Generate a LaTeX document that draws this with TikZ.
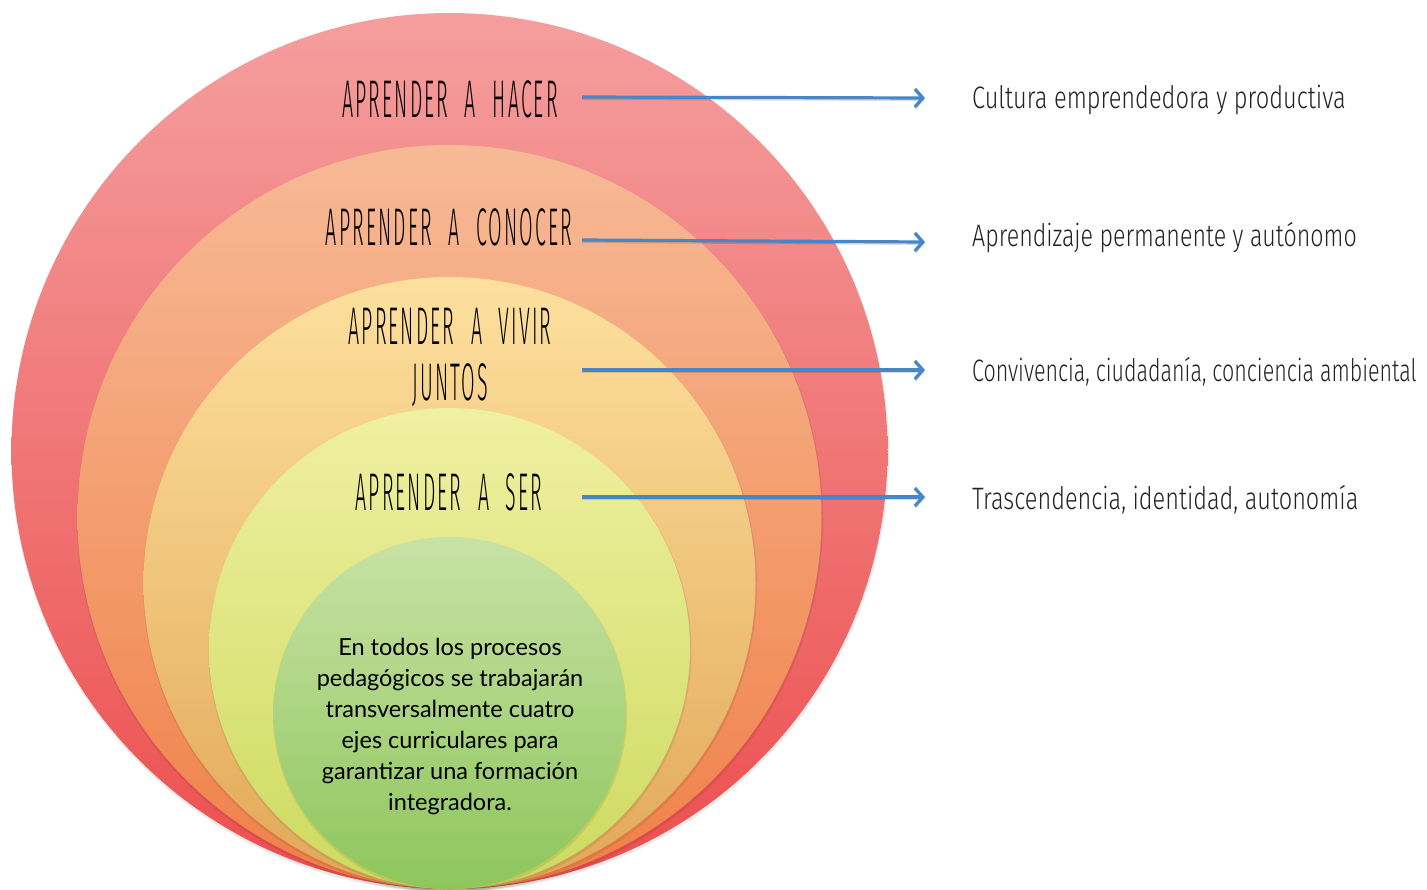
\documentclass[tikz,border=0pt]{standalone}
\usepackage{fontspec}
\usepackage{graphicx}
\usetikzlibrary{arrows.meta}
\newfontfamily\handfont[FakeStretch=0.37,LetterSpace=4,WordSpace=2.2]{Fira Sans Light}
\newfontfamily\condfont[FakeStretch=0.74]{Fira Sans Light}
\newfontfamily\gillfont{Lato}
\definecolor{cAt}{RGB}{245,158,158}\definecolor{cAb}{RGB}{236,78,78}
\definecolor{cBt}{RGB}{247,186,150}\definecolor{cBb}{RGB}{240,128,72}
\definecolor{cCt}{RGB}{253,224,158}\definecolor{cCb}{RGB}{226,168,88}
\definecolor{cDt}{RGB}{240,240,162}\definecolor{cDb}{RGB}{205,218,95}
\definecolor{cEt}{RGB}{200,226,165}\definecolor{cEb}{RGB}{142,198,92}
\definecolor{arrowblue}{RGB}{70,135,200}
\definecolor{textgray}{RGB}{35,35,35}
\begin{document}
\begin{tikzpicture}[x=1pt,y=-1pt,
  ring/.style={top color=#1t,bottom color=#1b,shading=axis,draw=none},
  ringshadow/.style={fill=black,opacity=0.08,draw=none},
  hand/.style={font=\handfont\fontsize{53}{56}\selectfont,text=black,inner sep=0pt,align=center},
  side/.style={font=\condfont\fontsize{31}{34}\selectfont,text=textgray,inner sep=0pt,anchor=base west},
  conn/.style={draw=arrowblue,line width=3.2pt,-{Straight Barb[length=8pt,width=18pt]}},
  connshadow/.style={draw=black,opacity=0.13,line width=3pt,-{Straight Barb[length=8pt,width=18pt]}}]
\useasboundingbox (0,0) rectangle (1427,889);
\fill[white] (0,0) rectangle (1427,889);
% rings
\foreach \r/\c in {438/cA,372/cB,306/cC,240.5/cD,176/cE}{
  \fill[ringshadow] (450,889-\r+2) circle[radius=\r+1];
  \path[ring=\c] (449.5,889-\r) circle[radius=\r];
}
% labels on rings
\node[hand] (l1) at (450,99) {APRENDER A HACER};
\node[hand] (l2) at (449,227) {APRENDER A CONOCER};
\node[hand] (l3) at (450,357) {APRENDER A VIVIR\\JUNTOS};
\node[hand] (l4) at (449,492) {APRENDER A SER};
% center text
\node[font=\gillfont\fontsize{23.5}{31}\selectfont,text=black,align=center,inner sep=0pt] (core) at (450,726)
 {En todos los procesos\\pedagógicos se trabajarán\\transversalmente cuatro\\ejes curriculares para\\garantizar una formación\\integradora.};
% side texts
\node[side] (r1) at (972,108) {\scalebox{1.03}[1]{Cultura emprendedora y productiva}};
\node[side] (r2) at (972,246) {\scalebox{1.013}[1]{Aprendizaje permanente y autónomo}};
\node[side] (r3) at (972,381) {\scalebox{0.935}[1]{Convivencia, ciudadanía, conciencia ambiental}};
\node[side] (r4) at (972,509) {\scalebox{1.024}[1]{Trascendencia, identidad, autonomía}};
% arrow endpoints
\coordinate (s1) at (582,97);  \coordinate (e1) at (925,98);
\coordinate (s2) at (582,240); \coordinate (e2) at (925,242);
\coordinate (s3) at (582,370); \coordinate (e3) at (925,370);
\coordinate (s4) at (582,497); \coordinate (e4) at (925,497);
\foreach \i in {1,2,3,4}{
  \draw[connshadow] ([yshift=-1.5pt]s\i) -- ([yshift=-1.5pt]e\i);
  \draw[conn] (s\i) -- (e\i);
}
\end{tikzpicture}
\end{document}
